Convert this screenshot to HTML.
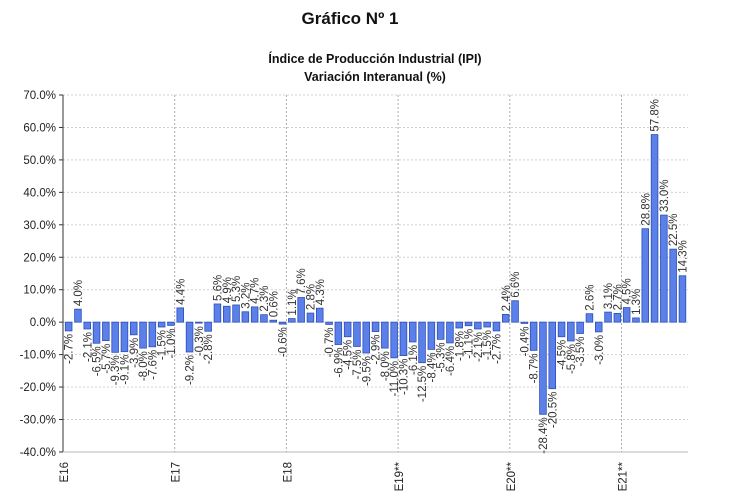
<!DOCTYPE html>
<html><head><meta charset="utf-8"><style>
body{margin:0;background:#fff;}
svg{display:block;font-family:"Liberation Sans",Arial,sans-serif;}
</style></head><body>
<svg id="s" width="730" height="501" xmlns="http://www.w3.org/2000/svg">
<text x="350" y="24" text-anchor="middle" font-size="17" font-weight="bold" fill="#111">Gráfico Nº 1</text>
<text x="375" y="63" text-anchor="middle" font-size="12.5" font-weight="bold" fill="#111">Índice de Producción Industrial (IPI)</text>
<text x="375" y="81" text-anchor="middle" font-size="12.5" font-weight="bold" fill="#111">Variación Interanual (%)</text>
<g id="g"></g>
</svg>
<script>
var v=[-2.7,4.0,-2.1,-6.5,-5.7,-9.3,-9.1,-3.9,-8.0,-7.6,-1.5,-1.0,
4.4,-9.2,-0.3,-2.8,5.6,4.9,5.3,3.2,4.7,2.3,0.6,-0.6,
1.1,7.6,2.8,4.3,-0.7,-6.9,-4.5,-7.5,-9.5,-2.9,-8.0,-11.0,
-10.3,-6.1,-12.5,-8.4,-5.3,-6.4,-1.8,-1.1,-2.1,-1.5,-2.7,2.4,
6.6,-0.4,-8.7,-28.4,-20.5,-4.5,-5.8,-3.5,2.6,-3.0,3.1,2.7,
4.5,1.3,28.8,57.8,33.0,22.5,14.3];
var X0=63,XR=688,Y70=95,k=3.245,Y0=Y70+70*k,st=9.3,h='';
for(var p=70;p>=-40;p-=10){var y=Y0-p*k;
 if(p>-40)h+='<line x1="'+X0+'" x2="'+XR+'" y1="'+y+'" y2="'+y+'" stroke="#d0d0d0" stroke-dasharray="2,2"/>';
 h+='<line x1="'+(X0-4)+'" x2="'+X0+'" y1="'+y+'" y2="'+y+'" stroke="#333"/>';
 h+='<text x="56" y="'+(y+4)+'" text-anchor="end" font-size="11.5" fill="#222">'+p.toFixed(1)+'%</text>';}
var yl=['E16','E17','E18','E19**','E20**','E21**'];
for(var i=0;i<6;i++){var x=X0+i*12*st+(i*0.1);
 if(i>0)h+='<line x1="'+x+'" x2="'+x+'" y1="'+Y70+'" y2="'+(Y0+40*k)+'" stroke="#aaa" stroke-dasharray="2,2"/>';
 h+='<text transform="translate('+(x+5)+',462) rotate(-90)" text-anchor="end" font-size="11.5" fill="#222">'+yl[i]+'</text>';}
h+='<line x1="'+X0+'" x2="'+X0+'" y1="'+Y70+'" y2="'+(Y0+40*k)+'" stroke="#333"/>';
h+='<line x1="'+X0+'" x2="'+XR+'" y1="'+(Y0+40*k)+'" y2="'+(Y0+40*k)+'" stroke="#bbb"/>';
for(var i=0;i<v.length;i++){var x=X0+i*st+2.3,val=v[i],y=val>=0?Y0-val*k:Y0,hh=Math.abs(val)*k;
 h+='<rect x="'+x+'" y="'+y+'" width="6.7" height="'+Math.max(hh,0.8)+'" fill="#5b80ea" stroke="#2d4fb5" stroke-width="0.8"/>';
 var cx=x+3.35+4,lbl=val.toFixed(1)+'%';
 if(val>=0)h+='<text transform="translate('+cx+','+(y-3)+') rotate(-90)" text-anchor="start" font-size="11.5" fill="#333">'+lbl+'</text>';
 else h+='<text transform="translate('+cx+','+(Y0+hh+3)+') rotate(-90)" text-anchor="end" font-size="11.5" fill="#333">'+lbl+'</text>';}
document.getElementById('g').innerHTML=h;
</script>
</body></html>
